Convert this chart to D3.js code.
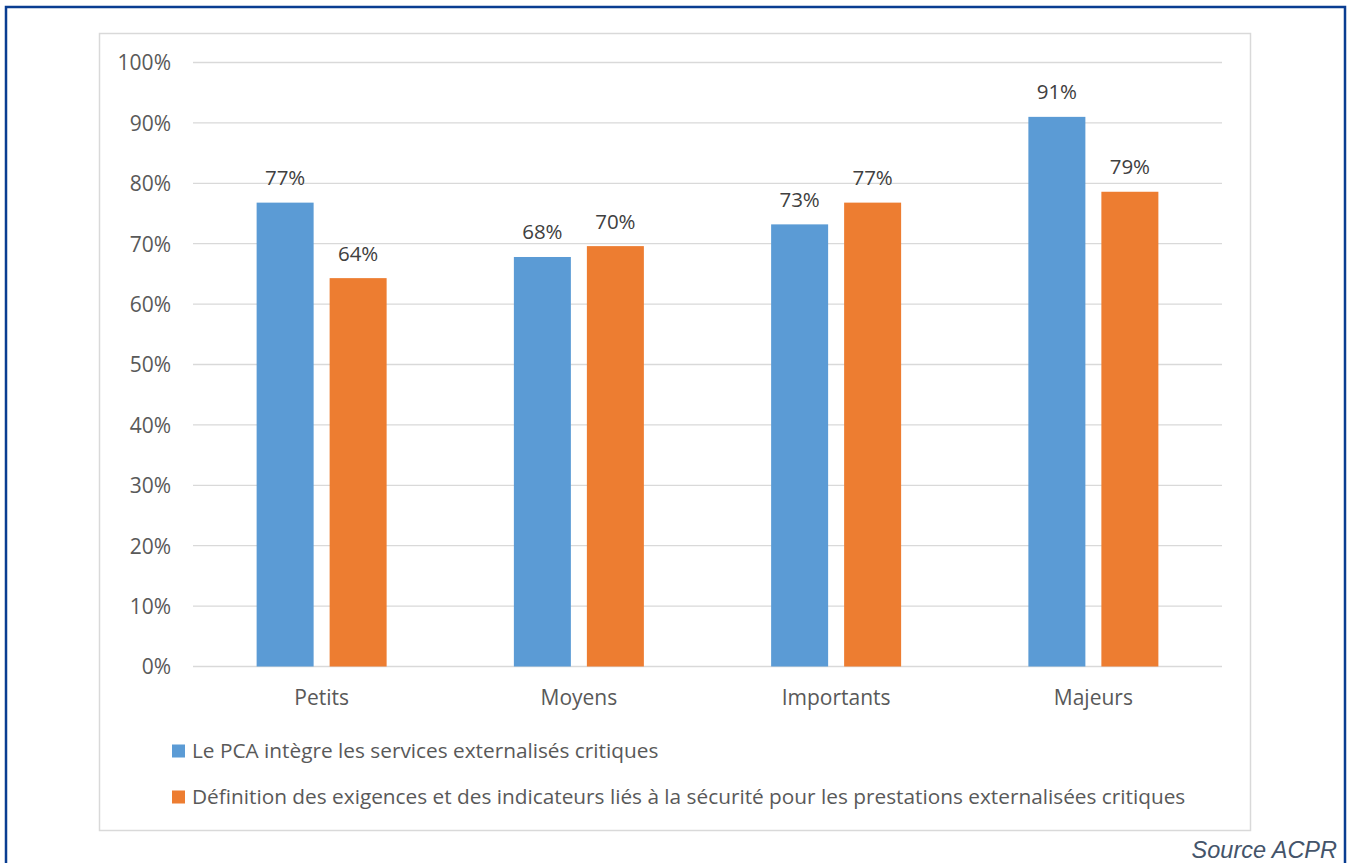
<!DOCTYPE html>
<html>
<head>
<meta charset="utf-8">
<script src="https://cdn.jsdelivr.net/npm/d3@7/dist/d3.min.js"></script>
<style>
  html, body { margin: 0; padding: 0; background: #fff; }
  svg { display: block; }
</style>
</head>
<body>
<svg id="chart" width="1351" height="863"></svg>
<script>
// Categories and series
const categories = ["Petits", "Moyens", "Importants", "Majeurs"];
const seriesNames = [
  "Le PCA intègre les services externalisés critiques",
  "Définition des exigences et des indicateurs liés à la sécurité pour les prestations externalisées critiques"
];
const pcaValues = [0.768, 0.678, 0.732, 0.910];
const exigencesValues = [0.643, 0.696, 0.768, 0.786];
const yTicks = [0, 0.1, 0.2, 0.3, 0.4, 0.5, 0.6, 0.7, 0.8, 0.9, 1.0];
const colors = ["#5b9bd5", "#ed7d31"];

const svg = d3.select("#chart");
const font = "'Open Sans', Lato, sans-serif";

// Outer frame (open at the bottom)
svg.append("path")
  .attr("d", "M6,870 V7 H1345 V870")
  .attr("fill", "none")
  .attr("stroke", "#0a3d91")
  .attr("stroke-width", 2.5);

// Chart area frame
svg.append("rect")
  .attr("x", 99.5).attr("y", 33.5)
  .attr("width", 1151).attr("height", 797)
  .attr("fill", "#fff")
  .attr("stroke", "#d9d9d9")
  .attr("stroke-width", 1.5);

const plot = { left: 193, right: 1222, top: 62.5, bottom: 666.5 };

const x = d3.scaleBand().domain(categories).range([plot.left, plot.right]).paddingInner(0).paddingOuter(0);
const y = d3.scaleLinear().domain([0, 1]).range([plot.bottom, plot.top]);

const barW = 57, barGap = 16;

// Gridlines
svg.append("g")
  .selectAll("line")
  .data(yTicks)
  .join("line")
  .attr("x1", plot.left).attr("x2", plot.right)
  .attr("y1", d => y(d)).attr("y2", d => y(d))
  .attr("stroke", "#d9d9d9")
  .attr("stroke-width", 1.3);

// Y axis tick labels
const yAxis = d3.axisLeft(y).tickValues(yTicks).tickFormat(d3.format(".0%")).tickSize(0).tickPadding(0);
const yg = svg.append("g").attr("transform", `translate(171,0)`).call(yAxis);
yg.select(".domain").remove();
yg.selectAll("text")
  .attr("font-family", font).attr("font-size", 21).attr("fill", "#595959").attr("dy", "0.35em");

// X axis category labels
const xAxis = d3.axisBottom(x).tickSize(0).tickPadding(0);
const xg = svg.append("g").attr("transform", `translate(0,${plot.bottom})`).call(xAxis);
xg.select(".domain").remove();
xg.selectAll("text")
  .attr("font-family", font).attr("font-size", 21).attr("fill", "#595959")
  .attr("dy", 0).attr("y", 38.5);

const series = [pcaValues, exigencesValues];
const fmt = d3.format(".0%");

series.forEach((vals, si) => {
  const offset = si === 0 ? -(barGap / 2 + barW) : barGap / 2;
  const g = svg.append("g");
  g.selectAll("rect")
    .data(vals)
    .join("rect")
    .attr("x", (d, i) => x(categories[i]) + x.bandwidth() / 2 + offset)
    .attr("y", d => y(d))
    .attr("width", barW)
    .attr("height", d => y(0) - y(d))
    .attr("fill", colors[si]);
  g.selectAll("text")
    .data(vals)
    .join("text")
    .attr("x", (d, i) => x(categories[i]) + x.bandwidth() / 2 + offset + barW / 2)
    .attr("y", d => y(d) - 17.5)
    .attr("text-anchor", "middle")
    .attr("font-family", font).attr("font-size", 20.5).attr("fill", "#404040")
    .text(d => fmt(d));
});

// Legend
const legend = svg.append("g");
seriesNames.forEach((name, i) => {
  const ly = 751 + i * 46;
  legend.append("rect")
    .attr("x", 172).attr("y", ly - 6.5)
    .attr("width", 13).attr("height", 13)
    .attr("fill", colors[i]);
  legend.append("text")
    .attr("x", 192).attr("y", ly).attr("dy", "0.35em")
    .attr("font-family", font).attr("font-size", 20.8).attr("fill", "#595959")
    .text(name);
});

// Source note
svg.append("text")
  .attr("x", 1337).attr("y", 858)
  .attr("text-anchor", "end")
  .attr("font-family", "'Liberation Sans', Arial, sans-serif")
  .attr("font-style", "italic")
  .attr("font-size", 23.5)
  .attr("fill", "#44546a")
  .text("Source ACPR");
</script>
</body>
</html>
